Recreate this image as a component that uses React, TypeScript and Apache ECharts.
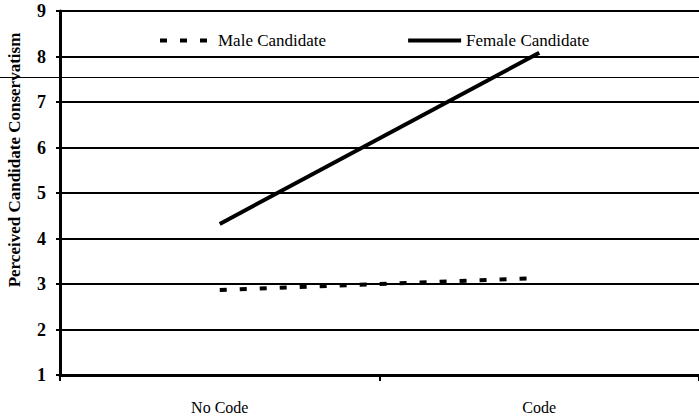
import React, { useEffect, useRef } from "react";
import * as echarts from "echarts";

const categories = ["No Code", "Code"];
const maleValues = [2.87, 3.13];
const femaleValues = [4.32, 8.08];
const yTicks = [1, 2, 3, 4, 5, 6, 7, 8, 9];

const FONT = "'Liberation Serif', 'DejaVu Serif', serif";

export default function App() {
  const ref = useRef<HTMLDivElement>(null);
  useEffect(() => {
    if (!ref.current) return;
    const chart = echarts.init(ref.current, undefined, { renderer: "svg" });
    chart.setOption({
      animation: false,
      backgroundColor: "#ffffff",
      textStyle: { fontFamily: FONT, color: "#000" },
      grid: { left: 60, top: 11, width: 652, height: 364, containLabel: false },
      legend: {
        left: 153,
        top: 27,
        itemWidth: 53,
        itemHeight: 10,
        itemGap: 80,
        itemStyle: { opacity: 0 },
        lineStyle: { width: 4 },
        textStyle: { fontFamily: FONT, fontSize: 17, color: "#000" },
        data: ["Male Candidate", "Female Candidate"],
      },
      xAxis: {
        type: "category",
        data: categories,
        boundaryGap: true,
        axisLine: { lineStyle: { color: "#000", width: 3 } },
        axisTick: { show: true, length: 6, lineStyle: { color: "#000", width: 2 } },
        axisLabel: { fontFamily: FONT, fontSize: 16, color: "#000", margin: 24 },
        splitLine: { show: false },
      },
      yAxis: {
        type: "value",
        min: yTicks[0],
        max: yTicks[yTicks.length - 1],
        interval: 1,
        axisLine: { show: true, lineStyle: { color: "#000", width: 3 } },
        axisTick: { show: true, length: 4, lineStyle: { color: "#000", width: 2 } },
        axisLabel: { fontFamily: FONT, fontSize: 18, fontWeight: "bold", color: "#000", margin: 14 },
        splitLine: { show: true, lineStyle: { color: "#000", width: 2 } },
      },
      graphic: [
        {
          type: "text",
          x: 14,
          y: 160,
          rotation: Math.PI / 2,
          style: {
            text: "Perceived Candidate Conservatism",
            fontFamily: FONT,
            fontWeight: "bold",
            fontSize: 17,
            fill: "#000",
            align: "center",
            verticalAlign: "middle",
          },
        },
        {
          type: "line",
          shape: { x1: 0, y1: 77.5, x2: 699, y2: 77.5 },
          style: { stroke: "#000", lineWidth: 1 },
          z: 10,
        },
      ],
      series: [
        {
          name: "Male Candidate",
          type: "line",
          data: maleValues,
          symbol: "none",
          lineStyle: { color: "#000", width: 4, type: [7, 13] },
          itemStyle: { color: "#000" },
        },
        {
          name: "Female Candidate",
          type: "line",
          data: femaleValues,
          symbol: "none",
          lineStyle: { color: "#000", width: 4 },
          itemStyle: { color: "#000" },
        },
      ],
    });
    return () => chart.dispose();
  }, []);
  return <div ref={ref} style={{ width: 699, height: 416, position: "absolute", left: 0, top: 0 }} />;
}
